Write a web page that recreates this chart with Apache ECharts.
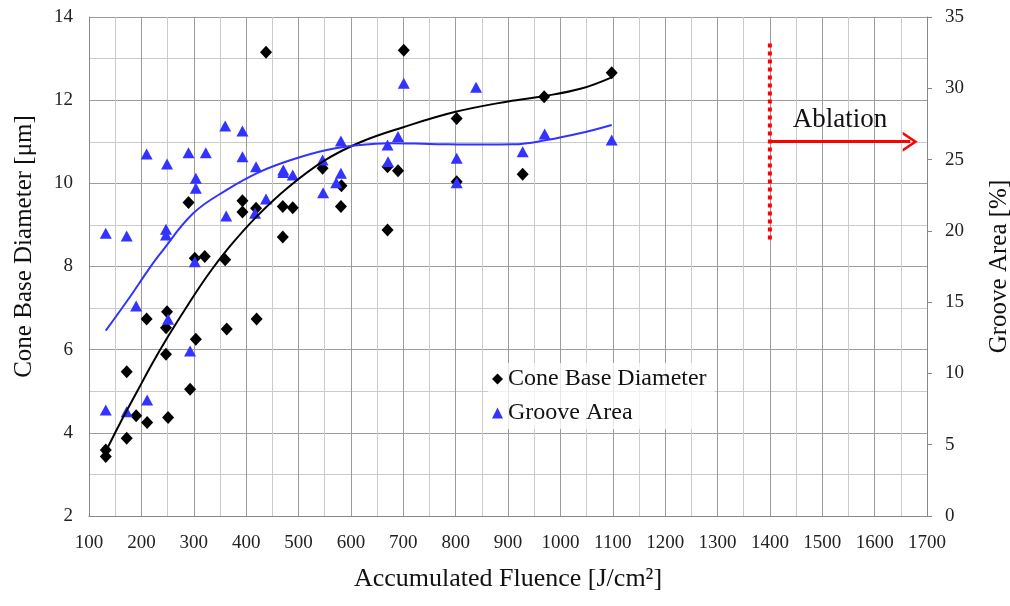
<!DOCTYPE html>
<html>
<head>
<meta charset="utf-8">
<script src="https://cdn.jsdelivr.net/npm/echarts@6/dist/echarts.min.js"></script>
<style>
  html, body { margin: 0; padding: 0; background: #fff; overflow: hidden; }
  #chart { width: 1010px; height: 606px; }
</style>
</head>
<body>
<div id="chart"></div>
<script>
  // measured points, [fluence J/cm2, value]
  let coneBase = [
    [132, 3.43], [132, 3.59], [172, 3.87], [172, 5.47], [190, 4.41], [211, 4.25],
    [210, 6.74], [249, 6.91], [247, 6.53], [247, 5.89], [251, 4.37], [290, 9.54],
    [293, 5.05], [304, 6.25], [302, 8.20], [321, 8.24], [360, 8.16], [363, 6.50],
    [393, 9.58], [393, 9.31], [419, 9.40], [420, 6.74], [438, 13.15], [470, 9.44],
    [470, 8.71], [489, 9.41], [546, 10.36], [582, 9.94], [581, 9.44], [670, 10.40],
    [670, 8.88], [690, 10.30], [701, 13.2], [802, 11.56], [802, 10.04], [928, 10.22],
    [969, 12.08], [1098, 12.66]
  ];
  let grooveArea = [
    [132, 19.83], [172, 19.64], [210, 25.39], [249, 24.69], [247, 20.11], [247, 19.71],
    [290, 25.48], [323, 25.48], [304, 23.69], [304, 22.98], [360, 27.36], [393, 27.00],
    [393, 25.20], [419, 24.50], [362, 21.04], [417, 21.23], [438, 22.23], [302, 17.84],
    [471, 24.27], [471, 24.10], [489, 23.92], [546, 24.97], [547, 22.68], [581, 26.30],
    [581, 24.04], [572, 23.38], [670, 26.02], [671, 24.85], [690, 26.61], [701, 30.35],
    [839, 30.07], [802, 25.09], [802, 23.38], [928, 25.55], [970, 26.79], [1098, 26.37],
    [132, 7.43], [172, 7.32], [190, 14.73], [211, 8.14], [251, 13.80], [293, 11.57]
  ];
  // trend lines
  let coneFit = [
    [132, 3.55], [160, 4.25], [190, 4.95], [220, 5.65], [250, 6.3], [290, 7.1],
    [330, 7.85], [370, 8.5], [420, 9.2], [480, 9.9], [550, 10.55], [620, 11.0],
    [700, 11.35], [800, 11.72], [900, 11.97], [970, 12.1], [1040, 12.28], [1098, 12.55]
  ];
  let grooveFit = [
    [132, 13.0], [175, 15.2], [213, 17.25], [236, 18.4], [299, 21.23], [363, 22.87],
    [427, 24.15], [490, 25.02], [554, 25.67], [617, 26.02], [675, 26.14], [750, 26.1],
    [850, 26.05], [910, 26.07], [974, 26.37], [1037, 26.84], [1098, 27.43]
  ];
  let ablationLine = [[1400, 8.65], [1400, 13.37]];
  let ablationArrow = [[1400, 11.0], [1668, 11.0]];

  let serif = 'Liberation Serif';
  let gridMajor = '#9c9c9c';
  let gridMinor = '#cbcbcb';
  let blue = '#3333ff';

  let chart = echarts.init(document.getElementById('chart'));
  chart.setOption({
    animation: false,
    grid: { left: 89, right: 83, top: 17, bottom: 90, outerBoundsMode: 'none' },
    legend: {
      orient: 'vertical',
      left: 488,
      top: 363,
      padding: [4, 8, 4, 4],
      itemGap: 10,
      itemWidth: 11,
      itemHeight: 11,
      backgroundColor: 'rgba(255,255,255,0.75)',
      textStyle: { fontFamily: serif, fontSize: 24, color: '#111' },
      data: [
        { name: 'Cone Base Diameter', icon: 'diamond' },
        { name: 'Groove Area', icon: 'triangle' }
      ]
    },
    xAxis: {
      type: 'value',
      min: 100,
      max: 1700,
      interval: 100,
      name: 'Accumulated Fluence [J/cm²]',
      nameLocation: 'middle',
      nameGap: 50,
      nameTextStyle: { fontFamily: serif, fontSize: 26, color: '#111' },
      axisLine: { lineStyle: { color: '#888' } },
      axisTick: { show: false },
      axisLabel: {
        margin: 18, fontFamily: serif, fontSize: 19, color: '#222',
        formatter: function (v) { return String(v); }
      },
      splitLine: { lineStyle: { color: gridMajor } },
      minorTick: { show: false, splitNumber: 2 },
      minorSplitLine: { show: true, lineStyle: { color: gridMinor } }
    },
    yAxis: [
      {
        type: 'value',
        min: 2,
        max: 14,
        interval: 2,
        name: 'Cone Base Diameter [μm]',
        nameLocation: 'middle',
        nameRotate: 90,
        nameGap: 52,
        nameTextStyle: { fontFamily: serif, fontSize: 25, color: '#111', padding: [0, 0, 0, 40] },
        axisLine: { show: true, lineStyle: { color: '#888' } },
        axisTick: { show: false },
        axisLabel: { margin: 16, fontFamily: serif, fontSize: 19, color: '#222' },
        splitLine: { lineStyle: { color: gridMajor } },
        minorTick: { show: false, splitNumber: 2 },
        minorSplitLine: { show: true, lineStyle: { color: gridMinor } }
      },
      {
        type: 'value',
        position: 'right',
        min: 0,
        max: 35,
        interval: 5,
        name: 'Groove Area [%]',
        nameLocation: 'middle',
        nameRotate: 90,
        nameGap: 60,
        nameTextStyle: { fontFamily: serif, fontSize: 25, color: '#111' },
        axisLine: { show: true, lineStyle: { color: '#888' } },
        axisTick: { show: true, inside: false, length: 5, lineStyle: { color: '#888' } },
        axisLabel: { margin: 18, fontFamily: serif, fontSize: 19, color: '#222' },
        splitLine: { show: false }
      }
    ],
    series: [
      {
        name: 'Cone Base Diameter',
        type: 'scatter',
        yAxisIndex: 0,
        symbol: 'diamond',
        symbolSize: [12, 13],
        itemStyle: { color: '#000', opacity: 1 },
        data: coneBase
      },
      {
        name: 'Groove Area',
        type: 'scatter',
        yAxisIndex: 1,
        symbol: 'triangle',
        symbolSize: [12, 11],
        itemStyle: { color: blue, opacity: 1 },
        data: grooveArea
      },
      {
        name: 'coneFit',
        type: 'line',
        yAxisIndex: 0,
        smooth: 0.4,
        showSymbol: false,
        lineStyle: { color: '#000', width: 2 },
        data: coneFit
      },
      {
        name: 'grooveFit',
        type: 'line',
        yAxisIndex: 1,
        smooth: 0.4,
        showSymbol: false,
        lineStyle: { color: blue, width: 2 },
        data: grooveFit
      },
      {
        name: 'ablation',
        type: 'line',
        yAxisIndex: 0,
        showSymbol: false,
        lineStyle: { color: '#ff0000', width: 4, type: [4, 4], cap: 'butt' },
        data: ablationLine,
        markLine: {
          silent: true,
          symbol: ['none', 'path://M0,15 L10,0 L20,15 L17,15 L10,4.5 L3,15 Z'],
          symbolSize: [20, 15],
          lineStyle: { color: '#ff0000', width: 3, type: 'solid' },
          label: {
            show: true,
            position: 'middle',
            distance: 8,
            formatter: 'Ablation',
            fontFamily: serif,
            fontSize: 27,
            color: '#111'
          },
          data: [[{ coord: ablationArrow[0] }, { coord: ablationArrow[1] }]]
        }
      }
    ]
  });
</script>
</body>
</html>
